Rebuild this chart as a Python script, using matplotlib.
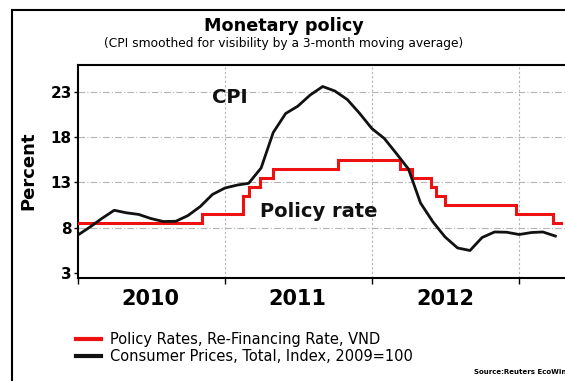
import matplotlib
matplotlib.use("Agg")
import matplotlib.pyplot as plt
from matplotlib.lines import Line2D
import pandas as pd

# ---- data ----
cpi_start = "2010-01-01"
cpi_values = [7.22, 8.13, 9.03, 9.94, 9.66, 9.48, 9.03, 8.70, 8.73, 9.35,
              10.36, 11.68, 12.39, 12.72, 12.91, 14.6, 18.5, 20.6, 21.4, 22.64,
              23.57, 23.08, 22.14, 20.65, 18.95, 17.85, 16.25, 14.49, 10.74, 8.65,
              7.0, 5.79, 5.51, 6.94, 7.55, 7.52, 7.27, 7.49, 7.55, 7.1]
rate_dates = ["2010-01-01", "2010-11-05", "2011-02-14", "2011-03-03", "2011-03-28",
              "2011-05-01", "2011-10-08", "2012-03-10", "2012-04-11", "2012-05-28",
              "2012-06-09", "2012-07-02", "2012-12-24", "2013-03-26", "2013-04-14"]
rate_values = [8.5, 9.5, 11.5, 12.5, 13.5, 14.5, 15.5, 14.5, 13.5, 12.5,
               11.5, 10.5, 9.5, 8.5, 8.5]
y_ticks = [3, 8, 13, 18, 23]
year_labels = ["2010", "2011", "2012"]
legend_labels = ["Policy Rates, Re-Financing Rate, VND",
                 "Consumer Prices, Total, Index, 2009=100"]

W, H = 565, 381
fig = plt.figure(figsize=(W / 100, H / 100), dpi=100)
fig.patch.set_facecolor("white")

def fx(px):
    return px / W

def fy(py):
    return 1 - py / H

ax = fig.add_axes([fx(78), fy(278), fx(565) - fx(78), fy(65) - fy(278)])

cpi_dates = pd.date_range(cpi_start, periods=len(cpi_values), freq="MS")
rd = pd.to_datetime(rate_dates)

ax.step(rd, rate_values, where="post", color="#ee1111", lw=2.2,
        solid_joinstyle="miter", zorder=3)
ax.plot(cpi_dates, cpi_values, color="#111111", lw=2.0, zorder=4)

ax.set_xlim(pd.Timestamp("2010-01-01"), pd.Timestamp("2013-04-25"))
ax.set_ylim(2.48, 25.94)

# y axis
ax.set_yticks(y_ticks)
ax.set_yticklabels([str(v) for v in y_ticks], fontsize=11, fontweight="bold",
                   family="DejaVu Sans")
ax.tick_params(axis="y", length=3, width=1, pad=1.5, direction="out")

# x axis: year boundaries (major) and mid-year labels (minor)
year_starts = pd.to_datetime(["2010-01-01", "2011-01-01", "2012-01-01", "2013-01-01"])
mid_years = pd.to_datetime(["2010-07-01", "2011-07-01", "2012-07-01"])
ax.set_xticks(year_starts)
ax.set_xticklabels([""] * len(year_starts))
ax.set_xticks(mid_years, minor=True)
ax.set_xticklabels(year_labels, minor=True, fontsize=15, fontweight="bold",
                   family="DejaVu Sans")
ax.tick_params(axis="x", which="major", length=4, width=1, direction="out")
ax.tick_params(axis="x", which="minor", length=0, pad=8)

# grid
for v in y_ticks[1:]:
    ax.axhline(v, color="#b4b4b4", lw=0.8, ls=(0, (6, 2, 1, 2)), zorder=1)
for d in year_starts[1:]:
    ax.axvline(d, color="#b4b4b4", lw=0.8, ls=(0, (2, 2)), zorder=1)

for s in ["left", "bottom", "top"]:
    ax.spines[s].set_linewidth(1.5)
ax.spines["right"].set_visible(False)

# annotations in chart
ax.text(pd.Timestamp("2011-01-13"), 21.7, "CPI", fontsize=14, fontweight="bold",
        ha="center", va="baseline", color="#111111", zorder=5)
ax.text(pd.Timestamp("2011-08-21"), 9.15, "Policy rate", fontsize=14,
        fontweight="bold", ha="center", va="baseline", color="#111111", zorder=5)

# titles
fig.text(fx(284), fy(26), "Monetary policy", fontsize=12.7, fontweight="bold",
         ha="center", va="center")
fig.text(fx(284), fy(44), "(CPI smoothed for visibility by a 3-month moving average)",
         fontsize=8.8, ha="center", va="center")
fig.text(fx(28), fy(171), "Percent", fontsize=13, fontweight="bold", rotation=90,
         ha="center", va="center")

# legend
handles = [Line2D([], [], color="#ee1111", lw=3),
           Line2D([], [], color="#111111", lw=3)]
fig.legend(handles, legend_labels, loc="upper left",
           bbox_to_anchor=(fx(76), fy(332)), frameon=False, fontsize=10.5,
           handlelength=1.7, handletextpad=0.6, labelspacing=0.15, borderpad=0,
           borderaxespad=0)

fig.text(fx(474), fy(372), "Source:Reuters EcoWin", fontsize=5, fontweight="bold",
         ha="left", va="center")

# outer frame (left and top edges)
fig.add_artist(Line2D([fx(12), fx(12)], [fy(10), 0], color="black", lw=1.5,
                      transform=fig.transFigure))
fig.add_artist(Line2D([fx(12), 1], [fy(10), fy(10)], color="black", lw=1.5,
                      transform=fig.transFigure))

fig.savefig("out.png", dpi=100)
